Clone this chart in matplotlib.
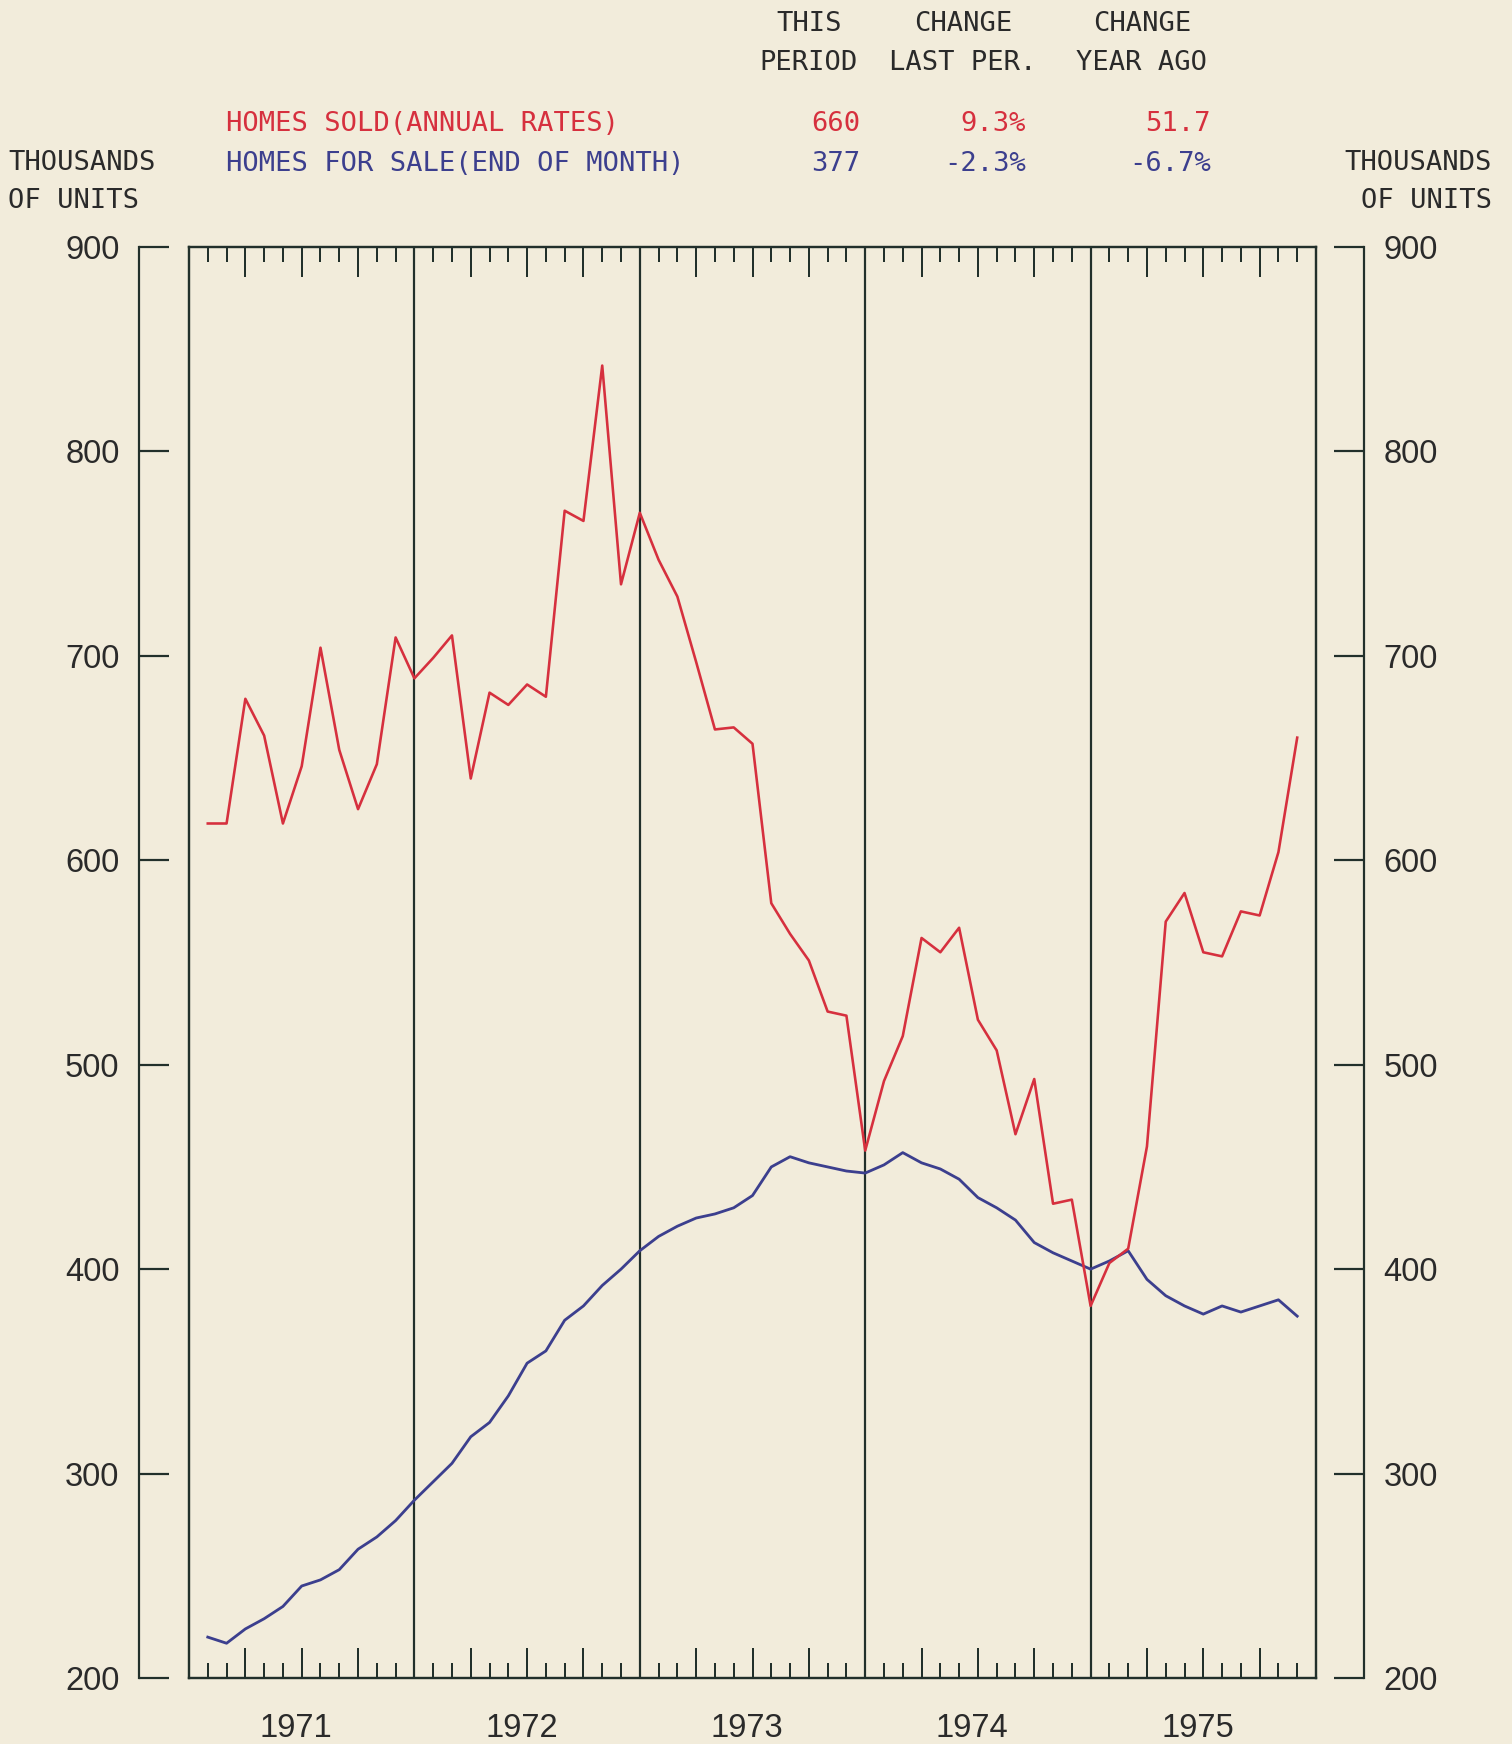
import matplotlib
matplotlib.use('Agg')
import matplotlib.pyplot as plt
from matplotlib.ticker import MultipleLocator, FixedLocator, NullFormatter

# ──────────────────────────────────────────────────────────────────────────────
#  Data (monthly, Jan 1971 .. Nov 1975, thousands of units)
# ──────────────────────────────────────────────────────────────────────────────
months = list(range(1, 60))
homes_sold = [
    618, 618, 679, 661, 618, 646, 704, 654, 625, 647, 709, 689,   # 1971
    699, 710, 640, 682, 676, 686, 680, 771, 766, 842, 735, 770,   # 1972
    747, 729, 697, 664, 665, 657, 579, 564, 551, 526, 524, 458,   # 1973
    492, 514, 562, 555, 567, 522, 507, 466, 493, 432, 434, 382,   # 1974
    403, 410, 460, 570, 584, 555, 553, 575, 573, 604, 660,        # 1975
]
homes_for_sale = [
    220, 217, 224, 229, 235, 245, 248, 253, 263, 269, 277, 287,
    296, 305, 318, 325, 338, 354, 360, 375, 382, 392, 400, 409,
    416, 421, 425, 427, 430, 436, 450, 455, 452, 450, 448, 447,
    451, 457, 452, 449, 444, 435, 430, 424, 413, 408, 404, 400,
    404, 409, 395, 387, 382, 378, 382, 379, 382, 385, 377,
]
years = ['1971', '1972', '1973', '1974', '1975']
y_ticks = [200, 300, 400, 500, 600, 700, 800, 900]

header_cols = [('THIS', 'PERIOD'), ('CHANGE', 'LAST PER.'), ('CHANGE', 'YEAR AGO')]
sold_label = 'HOMES SOLD(ANNUAL RATES)'
sale_label = 'HOMES FOR SALE(END OF MONTH)'
sold_stats = ['660', '9.3%', '51.7']
sale_stats = ['377', '-2.3%', '-6.7%']

# ──────────────────────────────────────────────────────────────────────────────
#  Style
# ──────────────────────────────────────────────────────────────────────────────
W, H = 1512, 1744
PAPER = '#f2ecdb'
INK   = '#22302b'
RED   = '#d6303e'
BLUE  = '#3c3f8e'
TXT   = '#2a2a2a'
PT = 0.72   # points per pixel at dpi=100

MONO = 'DejaVu Sans Mono'
SANS = 'Liberation Sans'


def fx(px):
    return px / W


def fy(py):
    return 1 - py / H


fig = plt.figure(figsize=(W / 100, H / 100), dpi=100)
fig.patch.set_facecolor(PAPER)

top, bot = 247, 1678

# outer value axes (left + right scales)
axo = fig.add_axes([fx(139), fy(bot), fx(1364 - 139), (bot - top) / H])
axo.set_facecolor('none')
axo.set_ylim(200, 900)
axo.set_xticks([])
for s in ('top', 'bottom'):
    axo.spines[s].set_visible(False)
for s in ('left', 'right'):
    axo.spines[s].set_color(INK)
    axo.spines[s].set_linewidth(2.2 * PT)
axo.yaxis.set_major_locator(FixedLocator(y_ticks))
axo.tick_params(axis='y', direction='in', left=True, right=True,
                labelleft=True, labelright=True, length=30 * PT,
                width=2.2 * PT, color=INK, labelcolor=TXT,
                labelsize=23.5, pad=14)
for lab in axo.get_yticklabels():
    lab.set_fontfamily(SANS)

# main box
ax = fig.add_axes([fx(189), fy(bot), fx(1316 - 189), (bot - top) / H])
ax.set_facecolor('none')
ax.set_xlim(0, 60)
ax.set_ylim(200, 900)
for s in ax.spines.values():
    s.set_color(INK)
    s.set_linewidth(2.4 * PT)
ax.set_yticks([])
ax.xaxis.set_major_locator(FixedLocator([m for m in range(3, 60, 3) if m % 12]))
ax.xaxis.set_minor_locator(MultipleLocator(1))
ax.xaxis.set_major_formatter(NullFormatter())
ax.tick_params(axis='x', which='both', direction='in', top=True, bottom=True,
               color=INK, width=2.0 * PT)
ax.tick_params(axis='x', which='major', length=30 * PT)
ax.tick_params(axis='x', which='minor', length=15 * PT)

for yr in range(1, len(years)):
    ax.axvline(12 * yr, color=INK, lw=2.2 * PT, zorder=1)

ax.plot(months, homes_for_sale, color=BLUE, lw=2.8 * PT, zorder=3)
ax.plot(months, homes_sold, color=RED, lw=2.6 * PT, zorder=4)

for i, yr in enumerate(years):
    ax.text(12 * i + 5.7, -0.035, yr, transform=ax.get_xaxis_transform(),
            ha='center', va='center', fontsize=23.5, family=SANS, color=TXT)

# ──────────────────────────────────────────────────────────────────────────────
#  Header
# ──────────────────────────────────────────────────────────────────────────────
hdr = dict(family=MONO, fontsize=19.5, va='center')
col_centers = [809, 963, 1142]
for cx, (l1, l2) in zip(col_centers, header_cols):
    fig.text(fx(cx), fy(24), l1, ha='center', color=TXT, **hdr)
    fig.text(fx(cx), fy(63), l2, ha='center', color=TXT, **hdr)

fig.text(fx(226), fy(124), sold_label, ha='left', color=RED, **hdr)
fig.text(fx(226), fy(164), sale_label, ha='left', color=BLUE, **hdr)

col_rights = [860, 1026, 1211]
for rx, a, b in zip(col_rights, sold_stats, sale_stats):
    fig.text(fx(rx), fy(124), a, ha='right', color=RED, **hdr)
    fig.text(fx(rx), fy(164), b, ha='right', color=BLUE, **hdr)

fig.text(fx(8), fy(163), 'THOUSANDS', ha='left', color=TXT, **hdr)
fig.text(fx(8), fy(201), 'OF UNITS', ha='left', color=TXT, **hdr)
fig.text(fx(1492), fy(163), 'THOUSANDS', ha='right', color=TXT, **hdr)
fig.text(fx(1492), fy(201), 'OF UNITS', ha='right', color=TXT, **hdr)

fig.savefig('out.png', dpi=100, facecolor=PAPER)
